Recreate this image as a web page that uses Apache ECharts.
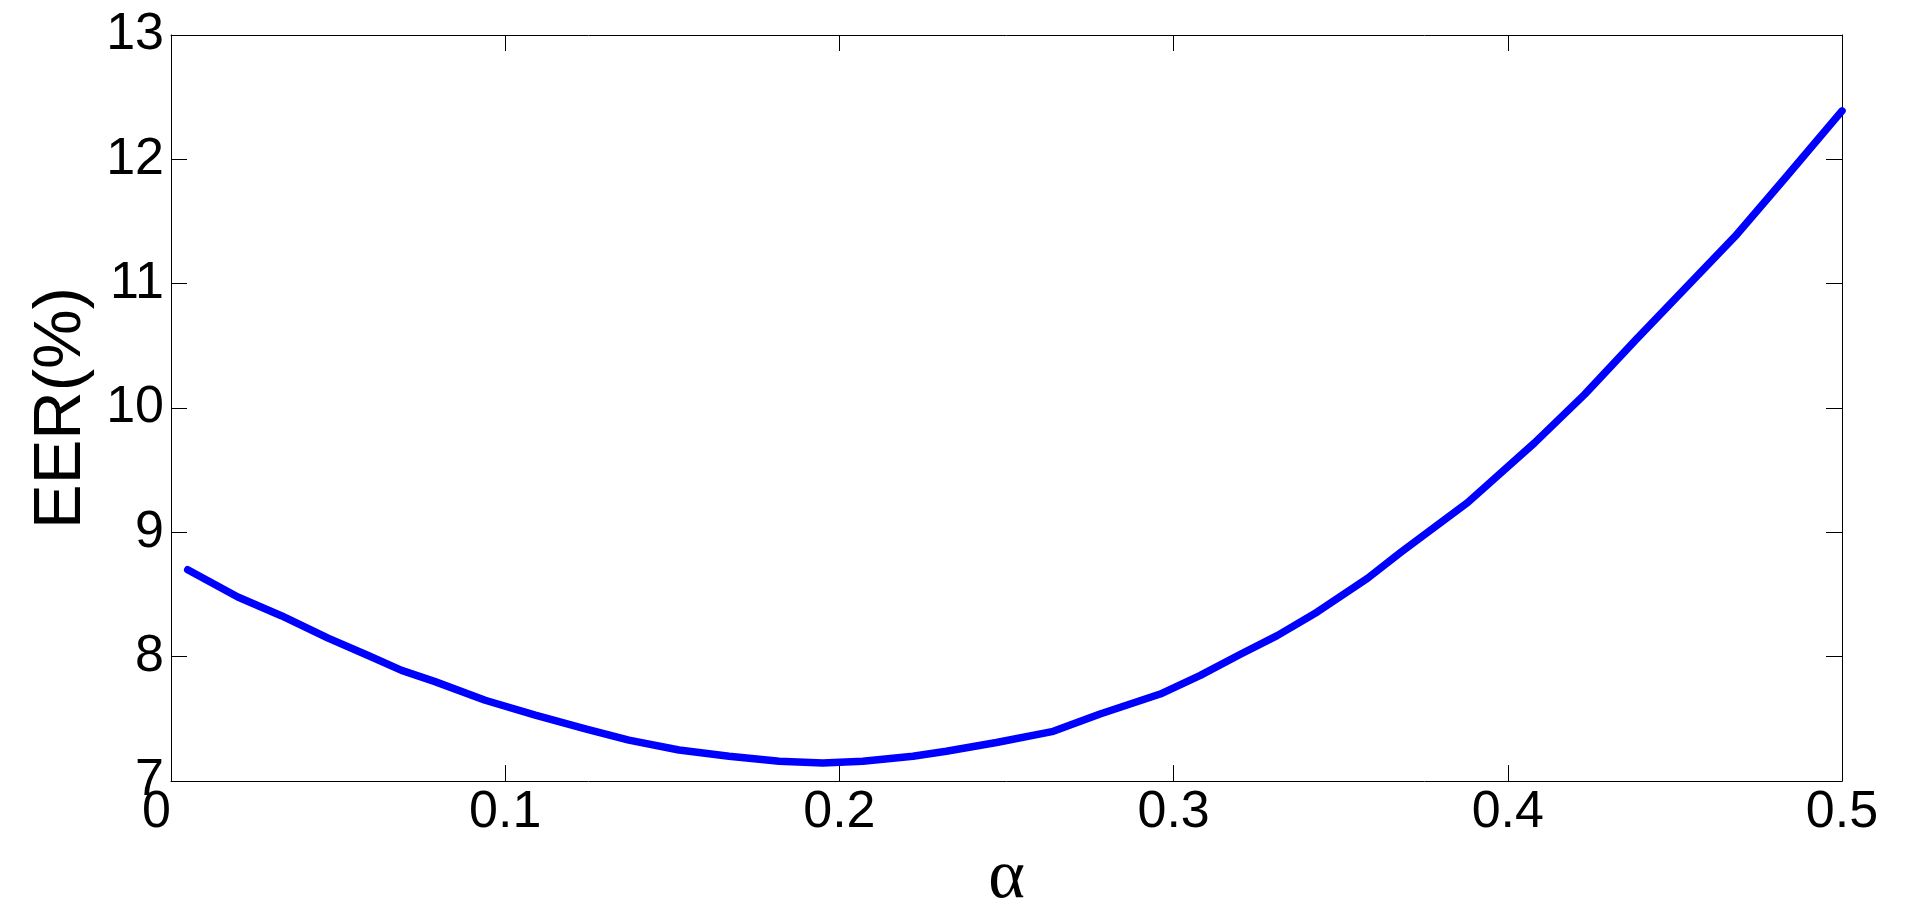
<!DOCTYPE html>
<html>
<head>
<meta charset="utf-8">
<script src="https://cdn.jsdelivr.net/npm/echarts@6/dist/echarts.min.js"></script>
<style>
html,body{margin:0;padding:0;background:#fff;}
#chart{width:1921px;height:919px;}
</style>
</head>
<body>
<div id="chart"></div>
<script>
const alphaValues = [0.005,0.020,0.033,0.047,0.059,0.069,0.079,0.094,0.109,0.124,0.137,0.152,0.167,0.182,0.195,0.207,0.222,0.232,0.247,0.264,0.278,0.296,0.308,0.320,0.331,0.343,0.358,0.368,0.388,0.408,0.423,0.438,0.453,0.468,0.483,0.500];
const eerValues   = [8.70,8.48,8.33,8.15,8.01,7.89,7.80,7.65,7.53,7.42,7.33,7.25,7.20,7.16,7.146,7.16,7.20,7.24,7.31,7.40,7.54,7.70,7.85,8.02,8.17,8.36,8.63,8.84,9.24,9.72,10.11,10.54,10.96,11.38,11.85,12.39];
const xTicks = [0, 0.5, 0.1];   // min, max, interval
const yTicks = [7, 13, 1];      // min, max, interval
const xName = 'α';
const yName = 'EER(%)';

const data = alphaValues.map((a, i) => [a, eerValues[i]]);
const font = 'Liberation Sans, Arial, Helvetica, sans-serif';
const axisLine = {show: true, onZero: false, lineStyle: {color: '#000', width: 1}};
const tick = {show: true, inside: true, length: 16, lineStyle: {color: '#000', width: 1}};

const chart = echarts.init(document.getElementById('chart'), null, {renderer: 'canvas'});
chart.setOption({
  animation: false,
  backgroundColor: '#fff',
  grid: {left: 171, right: 79, top: 35, bottom: 129, containLabel: false},
  xAxis: [{
    type: 'value', min: xTicks[0], max: xTicks[1], interval: xTicks[2],
    position: 'bottom',
    name: xName, nameLocation: 'middle', nameGap: 52,
    nameTextStyle: {fontFamily: 'Liberation Serif, Times New Roman, serif', fontSize: 70, color: '#000'},
    axisLine: axisLine, axisTick: tick, splitLine: {show: false},
    axisLabel: {color: '#000', fontFamily: font, fontSize: 52, margin: 6, alignMinLabel: 'right',
      formatter: v => String(+v.toFixed(1))}
  }, {
    type: 'value', min: xTicks[0], max: xTicks[1], interval: xTicks[2],
    position: 'top',
    axisLine: axisLine, axisTick: tick, splitLine: {show: false}, axisLabel: {show: false}
  }],
  yAxis: [{
    type: 'value', min: yTicks[0], max: yTicks[1], interval: yTicks[2],
    position: 'left',
    name: yName, nameLocation: 'middle', nameGap: 57,
    nameTextStyle: {fontFamily: font, fontSize: 67, color: '#000'},
    axisLine: axisLine, axisTick: tick, splitLine: {show: false},
    axisLabel: {color: '#000', fontFamily: font, fontSize: 52, margin: 7}
  }, {
    type: 'value', min: yTicks[0], max: yTicks[1], interval: yTicks[2],
    position: 'right',
    axisLine: axisLine, axisTick: tick, splitLine: {show: false}, axisLabel: {show: false}
  }],
  series: [{
    type: 'line', data: data, xAxisIndex: 0, yAxisIndex: 0,
    showSymbol: false, symbol: 'none', smooth: false,
    lineStyle: {color: '#0000ff', width: 7.5, cap: 'round', join: 'round'}
  }]
});
</script>
</body>
</html>
